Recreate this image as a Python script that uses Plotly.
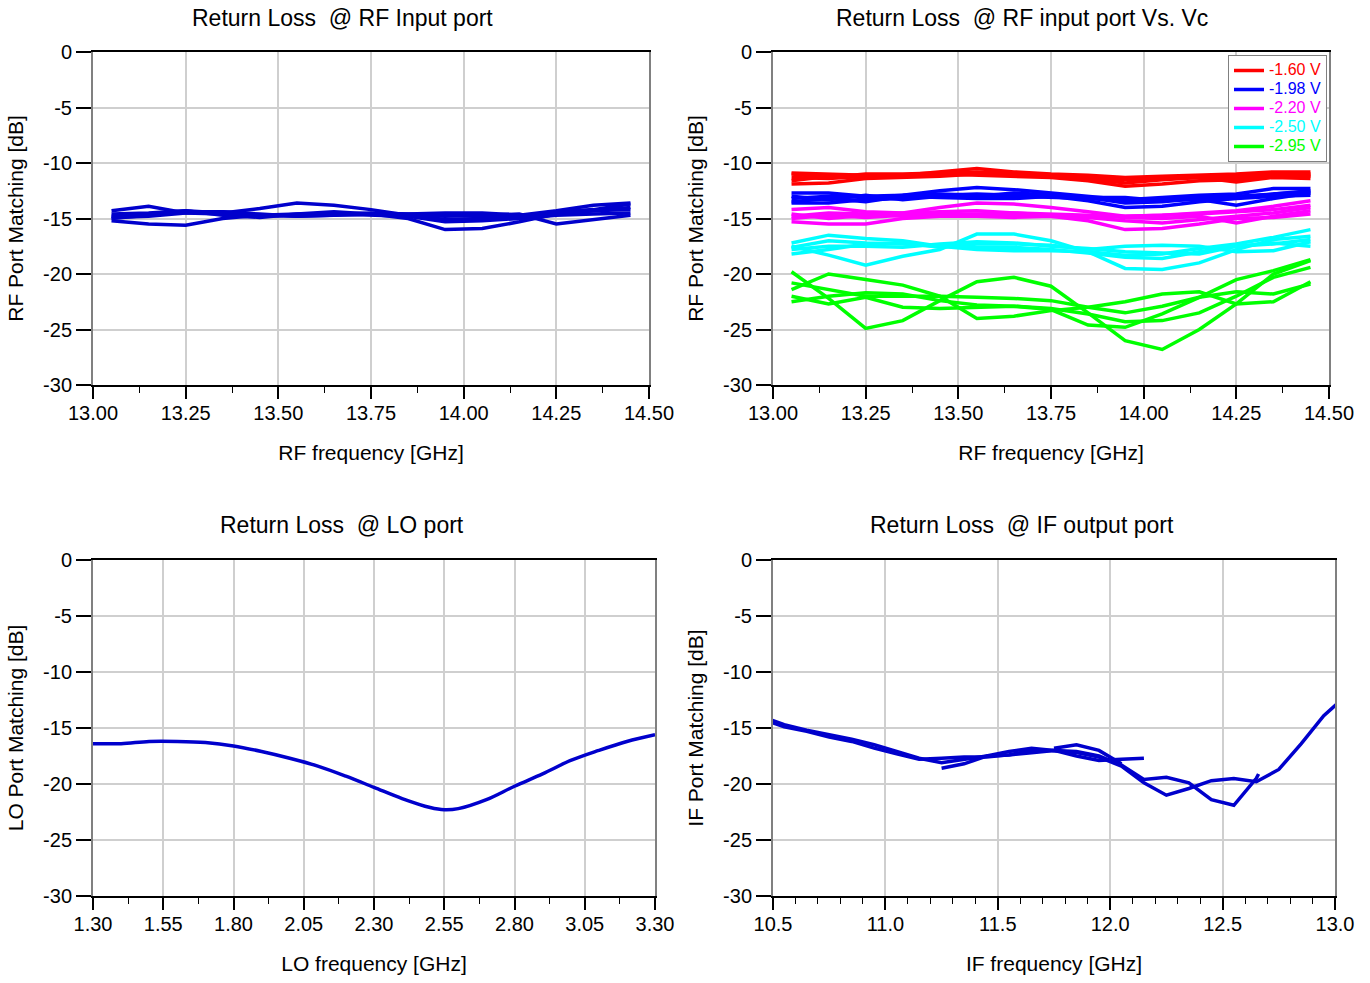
import plotly.graph_objects as go

# ---------------- data ----------------
rf_freq = [13.05, 13.15, 13.25, 13.35, 13.45, 13.55, 13.65, 13.75,
           13.85, 13.95, 14.05, 14.15, 14.25, 14.35, 14.45]

# Return loss @ RF input port (several LO settings)
rf_in_1 = [-14.3, -13.9, -14.5, -14.6, -14.8, -14.7, -14.6, -14.5, -14.6, -14.7, -14.8, -14.9, -14.4, -14.2, -13.7]
rf_in_2 = [-15.2, -15.5, -15.6, -15.0, -14.7, -14.6, -14.6, -14.7, -14.8, -15.3, -15.2, -15.0, -14.7, -14.6, -14.5]
rf_in_3 = [-14.8, -14.6, -14.3, -14.5, -14.1, -13.6, -13.8, -14.2, -14.7, -15.1, -15.0, -14.8, -14.6, -14.3, -14.0]
rf_in_4 = [-14.9, -14.8, -14.5, -14.4, -14.6, -14.8, -14.7, -14.6, -15.0, -16.0, -15.9, -15.3, -14.6, -14.3, -14.2]
rf_in_5 = [-15.0, -14.7, -14.4, -14.4, -14.7, -14.8, -14.7, -14.6, -14.7, -14.8, -14.7, -14.6, -15.5, -15.1, -14.7]
rf_in_6 = [-14.6, -14.5, -14.3, -14.7, -14.9, -14.6, -14.4, -14.6, -14.6, -14.5, -14.5, -14.7, -14.3, -13.8, -13.6]
rf_in_curves = [rf_in_1, rf_in_2, rf_in_3, rf_in_4, rf_in_5, rf_in_6]

# Return loss @ RF input port vs Vc
vc_labels = ["-1.60 V", "-1.98 V", "-2.20 V", "-2.50 V", "-2.95 V"]
vc_colors = ["#FF0000", "#0000FF", "#FF00FF", "#00FFFF", "#00FF00"]

vc_160 = [
    [-10.9, -11.0, -11.1, -11.1, -10.8, -10.5, -10.8, -11.0, -11.1, -11.3, -11.2, -11.1, -11.0, -10.8, -10.8],
    [-11.9, -11.8, -11.4, -11.3, -11.2, -11.0, -11.0, -11.1, -11.4, -11.8, -11.5, -11.3, -11.3, -11.0, -11.2],
    [-11.3, -11.4, -11.2, -11.2, -11.0, -11.1, -11.2, -11.3, -11.6, -12.1, -11.9, -11.6, -11.5, -11.2, -11.1],
    [-11.6, -11.2, -11.3, -11.1, -11.0, -11.0, -11.1, -11.2, -11.3, -11.5, -11.4, -11.3, -11.7, -11.3, -11.4],
    [-11.0, -11.3, -11.0, -11.0, -10.9, -10.8, -10.9, -11.1, -11.2, -11.4, -11.3, -11.2, -11.1, -10.9, -11.0],
]
vc_198 = [
    [-12.7, -12.7, -13.0, -12.9, -12.5, -12.2, -12.4, -12.7, -13.0, -13.3, -13.1, -12.9, -12.8, -12.3, -12.3],
    [-13.6, -13.6, -13.3, -13.2, -12.9, -12.8, -12.9, -13.0, -13.4, -14.0, -13.9, -13.5, -13.2, -13.0, -12.9],
    [-13.2, -13.0, -13.1, -12.9, -12.8, -12.9, -13.0, -13.1, -13.2, -13.4, -13.3, -13.3, -13.8, -13.2, -12.7],
    [-13.0, -13.3, -12.9, -13.3, -13.0, -13.0, -12.7, -12.9, -13.1, -13.1, -13.4, -13.0, -13.0, -12.8, -12.5],
    [-13.5, -13.2, -13.5, -13.0, -13.1, -13.2, -13.2, -13.0, -13.1, -13.6, -13.5, -13.2, -13.1, -12.8, -12.6],
]
vc_220 = [
    [-14.2, -14.0, -14.4, -14.5, -14.0, -13.6, -13.7, -14.0, -14.4, -14.8, -14.7, -14.5, -14.3, -13.9, -13.4],
    [-15.3, -15.5, -15.5, -15.0, -14.8, -14.7, -14.7, -14.8, -15.2, -16.0, -15.9, -15.5, -15.0, -14.9, -14.6],
    [-14.8, -14.5, -14.6, -14.8, -14.6, -14.6, -14.5, -14.6, -14.7, -14.9, -15.0, -14.8, -15.4, -14.8, -14.3],
    [-14.6, -15.0, -14.7, -14.5, -14.4, -14.3, -14.5, -14.7, -14.8, -14.8, -14.7, -14.6, -14.4, -14.2, -13.8],
    [-15.0, -14.7, -14.9, -14.7, -14.8, -14.8, -14.9, -14.8, -14.9, -15.2, -15.4, -15.1, -14.8, -14.5, -14.0],
]
vc_250 = [
    [-17.2, -16.5, -16.8, -17.0, -17.5, -17.8, -17.9, -17.9, -18.0, -18.3, -18.2, -17.7, -17.3, -16.7, -16.0],
    [-18.2, -17.8, -17.3, -17.2, -17.6, -17.3, -17.3, -17.4, -17.8, -17.5, -17.4, -17.5, -18.0, -17.9, -17.1],
    [-17.5, -18.3, -19.2, -18.4, -17.8, -16.4, -16.4, -17.0, -18.0, -19.5, -19.6, -19.0, -17.8, -16.9, -16.6],
    [-17.8, -17.5, -17.5, -17.6, -17.3, -17.1, -17.2, -17.5, -17.7, -18.0, -18.1, -18.2, -17.5, -17.3, -16.9],
    [-17.6, -17.0, -17.2, -17.3, -17.5, -17.6, -17.6, -17.8, -18.1, -18.5, -18.6, -18.0, -17.5, -17.2, -17.5],
]
vc_295 = [
    [-19.8, -22.2, -24.9, -24.2, -22.4, -20.7, -20.3, -21.1, -23.5, -26.0, -26.8, -25.0, -22.7, -20.0, -18.8],
    [-21.4, -20.0, -20.5, -21.0, -22.0, -24.0, -23.8, -23.3, -23.0, -22.5, -21.8, -21.6, -22.7, -22.5, -20.7],
    [-20.8, -21.4, -22.0, -22.0, -22.0, -22.1, -22.2, -22.4, -23.0, -23.5, -22.9, -22.1, -21.6, -21.8, -20.9],
    [-22.5, -22.0, -21.7, -21.8, -22.4, -22.8, -22.9, -23.1, -23.6, -24.3, -24.2, -23.5, -22.0, -20.3, -19.4],
    [-22.0, -22.7, -22.1, -23.0, -23.1, -23.0, -22.9, -23.2, -24.6, -24.8, -23.6, -22.1, -20.5, -19.7, -18.7],
]
vc_groups = [vc_160, vc_198, vc_220, vc_250, vc_295]

# Return loss @ LO port
lo_freq = [1.30, 1.40, 1.50, 1.60, 1.70, 1.80, 1.90, 2.00, 2.10, 2.20, 2.30,
           2.40, 2.50, 2.55, 2.60, 2.70, 2.80, 2.90, 3.00, 3.10, 3.20, 3.30]
lo_rl = [-16.4, -16.4, -16.2, -16.2, -16.3, -16.6, -17.1, -17.7, -18.4, -19.3, -20.3,
         -21.3, -22.1, -22.3, -22.2, -21.4, -20.2, -19.1, -17.9, -17.0, -16.2, -15.6]

# Return loss @ IF output port (overlapping IF segments)
if_freq_a = [10.45, 10.55, 10.65, 10.75, 10.85, 10.95, 11.05, 11.15, 11.25, 11.35, 11.45,
             11.55, 11.65, 11.75, 11.85, 11.95, 12.05, 12.15]
if_rl_a = [-14.2, -14.9, -15.3, -15.8, -16.2, -16.8, -17.3, -17.8, -17.7, -17.6, -17.6,
           -17.4, -17.0, -17.0, -17.5, -17.9, -17.8, -17.7]
if_freq_b = [10.45, 10.55, 10.65, 10.75, 10.85, 10.95, 11.05, 11.15, 11.25, 11.35, 11.45,
             11.55, 11.65, 11.75, 11.85, 11.95, 12.05, 12.15, 12.25, 12.35, 12.45, 12.55,
             12.65, 12.75, 12.85, 12.95, 13.05]
if_rl_b = [-14.0, -14.7, -15.2, -15.6, -16.0, -16.5, -17.1, -17.7, -18.1, -17.8, -17.5,
           -17.1, -16.8, -17.0, -17.2, -17.6, -18.4, -19.9, -21.0, -20.4, -19.7, -19.5,
           -19.8, -18.7, -16.4, -13.9, -12.1]
if_freq_c = [11.25, 11.35, 11.45, 11.55, 11.65, 11.75, 11.85, 11.95, 12.05, 12.15, 12.25,
             12.35, 12.45, 12.55, 12.65, 12.66]
if_rl_c = [-18.6, -18.2, -17.5, -17.4, -17.2, -17.0, -17.1, -17.5, -18.3, -19.6, -19.4,
           -19.9, -21.4, -21.9, -19.5, -19.1]
if_freq_d = [11.75, 11.85, 11.95, 12.05]
if_rl_d = [-16.8, -16.5, -17.0, -18.2]
if_segments = [(if_freq_a, if_rl_a), (if_freq_b, if_rl_b), (if_freq_c, if_rl_c), (if_freq_d, if_rl_d)]

y_tick_vals = [0, -5, -10, -15, -20, -25, -30]
y_tick_text = ["0", "-5", "-10", "-15", "-20", "-25", "-30"]

titles = ["Return Loss\u00a0 @ RF Input port", "Return Loss\u00a0 @ RF input port Vs. Vc",
          "Return Loss\u00a0 @ LO port", "Return Loss\u00a0 @ IF output port"]
x_titles = ["RF frequency [GHz]", "RF frequency [GHz]", "LO frequency [GHz]", "IF frequency [GHz]"]
y_titles = ["RF Port Matching [dB]", "RF Port Matching [dB]", "LO Port Matching [dB]", "IF Port Matching [dB]"]

# ---------------- figure ----------------
W, H = 1370, 983
DARK_BLUE = "#0000CC"
FONT = "Liberation Sans, Arial, sans-serif"
LW = 3.5

fig = go.Figure()

for c in rf_in_curves:
    fig.add_trace(go.Scatter(x=rf_freq, y=c, mode="lines", line=dict(color=DARK_BLUE, width=LW),
                             showlegend=False, xaxis="x", yaxis="y"))

for lab, col, grp in zip(vc_labels, vc_colors, vc_groups):
    for i, c in enumerate(grp):
        fig.add_trace(go.Scatter(x=rf_freq, y=c, mode="lines", line=dict(color=col, width=LW),
                                 name=f'<span style="color:{col};font-size:16px">{lab}</span>',
                                 legendgroup=lab, showlegend=(i == 0), xaxis="x2", yaxis="y2"))

fig.add_trace(go.Scatter(x=lo_freq, y=lo_rl, mode="lines", line=dict(color=DARK_BLUE, width=LW, shape="spline"),
                         showlegend=False, xaxis="x3", yaxis="y3"))

for fx, fy in if_segments:
    fig.add_trace(go.Scatter(x=fx, y=fy, mode="lines", line=dict(color=DARK_BLUE, width=LW),
                             showlegend=False, xaxis="x4", yaxis="y4"))


def xd(a, b):
    return [a / W, b / W]


def yd(top, bot):
    return [1 - bot / H, 1 - top / H]


def xaxis(dom, rng, dtick, minor_dtick, fmt, title, anchor):
    return dict(domain=dom, range=rng, anchor=anchor, automargin=False,
                tickmode="linear", tick0=rng[0], dtick=dtick,
                tickformat=fmt, showline=True, linecolor="black", linewidth=1.5, mirror=True,
                ticks="outside", ticklen=12, tickwidth=1.5, tickcolor="black",
                showgrid=True, gridcolor="#CFCFCF", gridwidth=1.5, zeroline=False,
                ticklabelstandoff=-3,
                tickfont=dict(size=20, color="black", family=FONT),
                minor=dict(ticks="outside", ticklen=6, tickwidth=1, tickcolor="black",
                           tickmode="linear", tick0=rng[0], dtick=minor_dtick, showgrid=False),
                title=dict(text=title, font=dict(size=21, color="black", family=FONT), standoff=23))


def yaxis(dom, title, anchor):
    return dict(domain=dom, range=[-30, 0], anchor=anchor, automargin=False, tickmode="array",
                tickvals=y_tick_vals, ticktext=y_tick_text,
                showline=True, linecolor="#808080", linewidth=2, mirror=True,
                ticks="outside", ticklen=15, tickwidth=1.5, tickcolor="black",
                showgrid=True, gridcolor="#CFCFCF", gridwidth=1.5, zeroline=False,
                tickfont=dict(size=20, color="black", family=FONT),
                title=dict(text=title, font=dict(size=21, color="black", family=FONT), standoff=14))


top_y = yd(52, 385)
bot_y = yd(560, 896)

fig.update_layout(
    width=W, height=H, margin=dict(l=0, r=0, t=0, b=0, autoexpand=False),
    paper_bgcolor="white", plot_bgcolor="white",
    font=dict(family=FONT, color="black"),
    xaxis=xaxis(xd(93, 649), [13.0, 14.5], 0.25, 0.125, ".2f", x_titles[0], "y"),
    yaxis=yaxis(top_y, y_titles[0], "x"),
    xaxis2=xaxis(xd(773, 1329), [13.0, 14.5], 0.25, 0.125, ".2f", x_titles[1], "y2"),
    yaxis2=yaxis(top_y, y_titles[1], "x2"),
    xaxis3=xaxis(xd(93, 655), [1.3, 3.3], 0.25, 0.125, ".2f", x_titles[2], "y3"),
    yaxis3=yaxis(bot_y, y_titles[2], "x3"),
    xaxis4=xaxis(xd(773, 1335), [10.5, 13.0], 0.5, 0.1, ".1f", x_titles[3], "y4"),
    yaxis4=yaxis(bot_y, y_titles[3], "x4"),
    showlegend=True,
    legend=dict(x=1327 / W, xanchor="right", y=1 - 55 / H, yanchor="top",
                bgcolor="white", bordercolor="#808080", borderwidth=1,
                font=dict(size=11.5, family=FONT), tracegroupgap=0, itemwidth=30),
)

title_pos = [(342, 18), (1022, 18), (342, 525), (1022, 525)]
for t, (px, py) in zip(titles, title_pos):
    fig.add_annotation(text=t, x=px / W, y=1 - py / H, xref="paper", yref="paper",
                       xanchor="center", yanchor="middle", showarrow=False,
                       font=dict(size=23, color="black", family=FONT))

fig.write_html("out.html", config={"displayModeBar": False},
               post_script="document.body.style.margin='0px';document.body.style.overflow='hidden';")
